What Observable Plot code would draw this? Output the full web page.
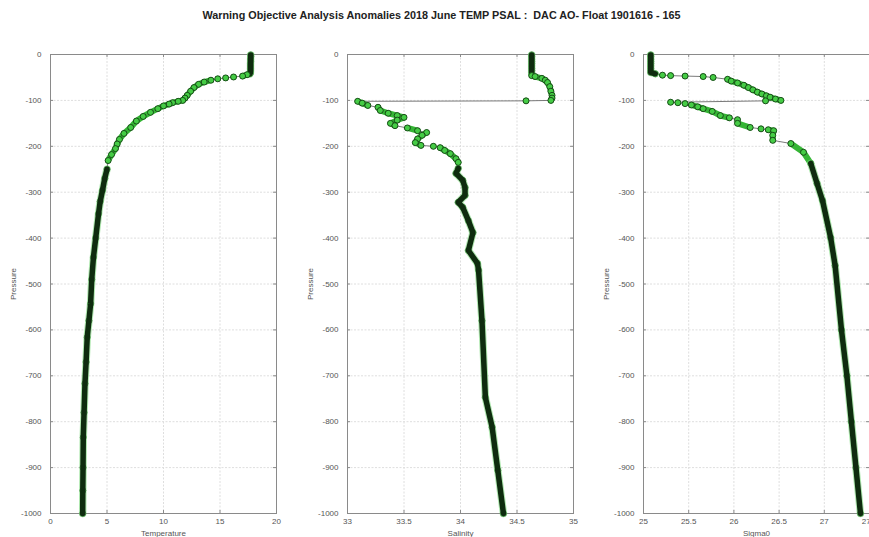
<!DOCTYPE html>
<html>
<head>
<meta charset="utf-8">
<script src="https://cdn.jsdelivr.net/npm/d3@7"></script>
<script src="https://cdn.jsdelivr.net/npm/@observablehq/plot@0.6"></script>
<style>
  html, body { margin: 0; padding: 0; background: #fff; }
  #page { position: relative; width: 869px; height: 537px; overflow: hidden; background: #fff; }
  #title { position: absolute; left: 0; top: 9px; width: 883px; text-align: center;
           font: bold 10.8px "Liberation Sans", Arial, sans-serif; color: #222; white-space: pre; }
  .panel { position: absolute; top: 40px; width: 300px; height: 497px; }
  .panel svg { max-width: none !important; }
</style>
</head>
<body>
<div id="page">
  <div id="title">Warning Objective Analysis Anomalies 2018 June TEMP PSAL :  DAC AO- Float 1901616 - 165</div>
  <div class="panel" id="p1" style="left:0px"></div>
  <div class="panel" id="p2" style="left:290px"></div>
  <div class="panel" id="p3" style="left:580px"></div>
</div>
<script>
// Float 1901616, cycle 165: profiles against pressure (dbar)
const tempPres = [1,5,10,15,20,25,30,35,40,42,44,47,49,51,53,56,60,65,72,80,89,95,100,102,105,108,112,118,126,135,145,159,172,185,195,205,218,231,250,270,296,320,347,400,442,490,543,580,616,670,717,780,834,900,950,1000];
const tempVals = [17.72,17.72,17.71,17.71,17.70,17.70,17.70,17.70,17.69,17.65,17.4,17.0,16.2,15.5,14.8,14.2,13.6,13.1,12.7,12.4,12.1,11.9,11.7,11.3,10.8,10.5,10.0,9.5,8.85,8.2,7.6,7.1,6.5,6.1,5.9,5.75,5.4,5.1,5.0,4.8,4.6,4.4,4.25,4.0,3.8,3.65,3.55,3.4,3.25,3.15,3.05,2.97,2.9,2.88,2.86,2.85];

const psalPres = [1,5,10,15,20,25,30,35,40,46,48,52,56,61,70,80,89,95,100,101,102,106,111,115,122,128,133,137,143,150,155,160,166,170,176,184,192,198,200,203,209,216,227,235,248,259,274,290,307,322,333,362,388,427,455,470,580,747,812,906,1000];
const psalVals = [34.63,34.63,34.63,34.63,34.63,34.63,34.63,34.63,34.63,34.63,34.66,34.72,34.75,34.77,34.79,34.80,34.81,34.81,34.80,34.58,33.09,33.13,33.18,33.27,33.29,33.36,33.44,33.50,33.44,33.38,33.42,33.53,33.62,33.70,33.66,33.62,33.60,33.65,33.76,33.82,33.86,33.91,33.96,33.98,33.98,33.96,34.02,34.04,34.04,33.98,34.02,34.07,34.11,34.07,34.15,34.16,34.19,34.22,34.28,34.33,34.38];

const sigPres = [1,5,10,15,20,25,30,35,39,42,45,46,47,48,50,54,58,62,67,72,77,82,86,90,93,97,100,101,104,105,107,110,114,118,124,133,138,142,150,159,162,164,166,176,187,194,213,237,281,318,399,460,600,700,800,900,1000];
const sigVals = [25.08,25.08,25.08,25.08,25.08,25.08,25.08,25.08,25.08,25.13,25.21,25.30,25.46,25.66,25.77,25.93,25.97,26.04,26.11,26.16,26.21,26.26,26.31,26.36,26.40,26.46,26.52,26.35,25.30,25.38,25.46,25.53,25.60,25.66,25.76,25.85,25.95,26.04,26.04,26.18,26.30,26.38,26.44,26.43,26.43,26.63,26.77,26.85,26.92,26.98,27.07,27.12,27.19,27.25,27.30,27.35,27.40];

// axis ticks
const presTicks = [0,-100,-200,-300,-400,-500,-600,-700,-800,-900,-1000];
const tempTicks = [0,5,10,15,20];
const psalTicks = [33,33.5,34,34.5,35];
const sigTicks = [25,25.5,26,26.5,27,27.5];

const W = 300, H = 497, FW = 226, FH = 459, MT = 14, MB = H - MT - FH;

// Split a profile into runs: nearly horizontal wide steps (sparse sampling)
// keep only the thin connecting line, dense stretches get the thick band.
function profile(pres, vals, domain) {
  const kx = FW / (domain[1] - domain[0]), ky = FH / 1000;
  let run = 0;
  return pres.map((p, i) => {
    if (i > 0) {
      const dx = Math.abs(vals[i] - vals[i - 1]) * kx;
      const dy = Math.abs(p - pres[i - 1]) * ky;
      if (dx > 6 && dx > 4 * dy) run++;
    }
    return {p: -p, v: vals[i], run};
  });
}

// surface mixed layer and deep layer are sampled densely: markers merge into a dark trace
const dense = d => d.p > -43 || d.p < -235;
const open = d => d.p <= -40 && d.p >= -240;

function panel(el, pres, vals, domain, ticks, label, marginLeft) {
  const data = profile(pres, vals, domain);
  const fmt = d => String(d);
  const grid = {stroke: "#dedede", strokeOpacity: 1, strokeDasharray: "2,1.5"};
  const tick = {stroke: "#8a8a8a", strokeOpacity: 1};
  const xy = {x: "v", y: "p", z: "run"};
  const chart = Plot.plot({
    width: W, height: H,
    marginLeft, marginRight: W - marginLeft - FW, marginTop: MT, marginBottom: MB,
    style: {fontFamily: "'Liberation Sans', Arial, sans-serif", fontSize: "8px", color: "#555", background: "transparent", overflow: "visible"},
    x: {domain},
    y: {domain: [-1000, 0]},
    marks: [
      Plot.gridX(ticks, grid),
      Plot.gridY(presTicks, grid),
      Plot.tickX(ticks, {...tick, insetTop: FH - 3}),
      Plot.tickX(ticks, {...tick, insetBottom: FH - 3}),
      Plot.tickY(presTicks, {...tick, insetRight: FW - 3}),
      Plot.tickY(presTicks, {...tick, insetLeft: FW - 3}),
      Plot.frame({stroke: "#8a8a8a"}),
      Plot.axisX(ticks, {anchor: "bottom", tickSize: 0, tickPadding: 5, tickFormat: fmt,
        label, labelAnchor: "center", labelArrow: "none", labelOffset: 22}),
      Plot.axisY(presTicks, {anchor: "left", tickSize: 0, tickPadding: 9, tickFormat: fmt,
        label: "Pressure", labelAnchor: "center", labelArrow: "none", labelOffset: 40}),
      Plot.line(data, {x: "v", y: "p", stroke: "#6b6b6b", strokeWidth: 0.9}),
      // markers hidden under the dark dense trace
      Plot.dot(data, {x: "v", y: "p", filter: dense, r: 3, fill: "#3fcf3f", stroke: "#0c2a0c", strokeWidth: 0.9}),
      Plot.line(data, {...xy, filter: open, stroke: "#35b535", strokeWidth: 6}),
      Plot.line(data, {...xy, filter: dense, stroke: "#7bd87b", strokeWidth: 7.5, strokeOpacity: 0.6}),
      Plot.line(data, {...xy, filter: dense, stroke: "#0f2c0f", strokeWidth: 5.5}),
      // markers of the sparser thermocline part
      Plot.dot(data, {x: "v", y: "p", filter: d => !dense(d), r: 3, fill: "#45cc45", stroke: "#123f12", strokeWidth: 0.9})
    ]
  });
  document.getElementById(el).appendChild(chart);
}

panel("p1", tempPres, tempVals, [0, 20], tempTicks, "Temperature", 50);
panel("p2", psalPres, psalVals, [33, 35], psalTicks, "Salinity", 57);
panel("p3", sigPres, sigVals, [25, 27.5], sigTicks, "Sigma0", 63);
</script>
</body>
</html>
